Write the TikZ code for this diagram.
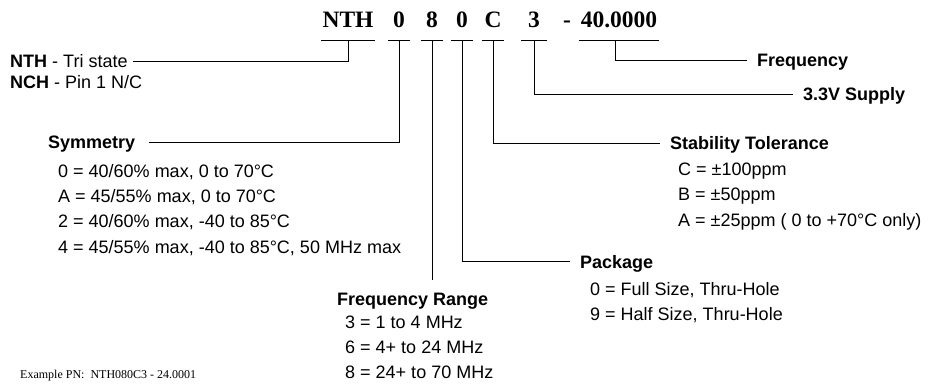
\documentclass[tikz,border=0pt]{standalone}
\usepackage{fontspec}
\setmainfont{Liberation Serif}
\setsansfont{Liberation Sans}
\usepackage{tikz}
\usetikzlibrary{positioning,calc}
\tikzset{
  code/.style={font=\fontsize{23.5}{28}\selectfont\bfseries, inner sep=0pt,
               text depth=12pt, anchor=base, minimum width=22pt},
  item/.style={font=\sffamily\fontsize{18}{25}\selectfont, inner sep=0pt,
               anchor=base west},
  head/.style={item, font=\sffamily\bfseries\fontsize{18}{25}\selectfont,
               text height=13pt, text depth=0pt},
  wire/.style={line width=1pt, black},
  note/.style={font=\fontsize{12}{14}\selectfont, inner sep=0pt, anchor=base west},
}
\begin{document}
\begin{tikzpicture}[x=1pt, y=-1pt]
  \useasboundingbox (0,0) rectangle (933,387);
  \node[code, minimum width=53pt] (nth) at (348,28) {NTH};
  \node[code] (c1) at (399,28) {0};
  \node[code] (c2) at (432,28) {8};
  \node[code] (c3) at (462,28) {0};
  \node[code] (c4) at (493,28) {C};
  \node[code, minimum width=25pt] (c5) at (534,28) {3};
  \node[code, text depth=0pt] (dash) at (567,28) {-};
  \node[code, minimum width=80pt] (freq) at (619,28) {40.0000};
  \foreach \n in {nth,c1,c2,c3,c4,c5,freq} \draw[wire] (\n.south west) -- (\n.south east);
  \node[head] (tri) at (10,68) {NTH \mdseries - Tri state};
  \node[item] (nch) at (10,89) {\textbf{NCH} - Pin 1 N/C};
  \node[head] (sym) at (48,149) {Symmetry};
  \node[head] (range) at (337,305) {Frequency Range};
  \node[head] (pkg) at (580,268) {Package};
  \node[head] (stab) at (670,150) {Stability Tolerance};
  \node[head] (frq) at (757,67) {Frequency};
  \node[head] (supply) at (803,101) {3.3V Supply};
  \foreach \t [count=\i] in {{0 = 40/60\% max, 0 to 70°C}, {A = 45/55\% max, 0 to 70°C},
      {2 = 40/60\% max, -40 to 85°C}, {4 = 45/55\% max, -40 to 85°C, 50 MHz max}}
    \node[item] (sym\i) at (58,153+25*\i) {\t};
  \foreach \t [count=\i] in {{3 = 1 to 4 MHz}, {6 = 4+ to 24 MHz}, {8 = 24+ to 70 MHz}}
    \node[item] (range\i) at (345,303+25*\i) {\t};
  \foreach \t [count=\i] in {{0 = Full Size, Thru-Hole}, {9 = Half Size, Thru-Hole}}
    \node[item] (pkg\i) at (590,270+25*\i) {\t};
  \foreach \t [count=\i] in {{C = ±100ppm}, {B = ±50ppm}, {A = ±25ppm ( 0 to +70°C only)}}
    \node[item] (stab\i) at (678,150+25.5*\i) {\t};
  \draw[wire, shorten >=5pt] (nth.south) |- (tri.east);
  \draw[wire, shorten >=14pt] (c1.south) |- (sym.east);
  \draw[wire, shorten >=12pt] (c2.south) -- (c2.south |- range.north);
  \draw[wire, shorten >=10pt] (c3.south) |- (pkg.west);
  \draw[wire, shorten >=10pt] (c4.south) |- (stab.west);
  \draw[wire, shorten >=10pt] (c5.south) |- (supply.west);
  \draw[wire, shorten >=10pt] ([xshift=-4pt]freq.south) |- (frq.west);
  \node[note] (pn) at (20,378) {Example PN:\ \ NTH080C3 - 24.0001};
\end{tikzpicture}
\end{document}
